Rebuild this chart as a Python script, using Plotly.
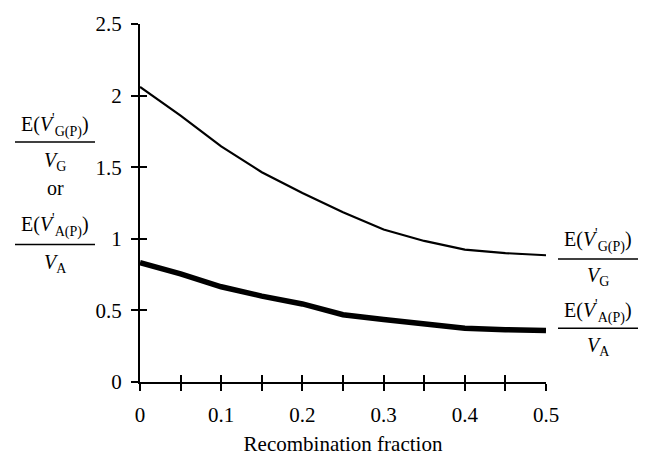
import plotly.graph_objects as go

# Data
recomb = [0.0, 0.05, 0.10, 0.15, 0.20, 0.25, 0.30, 0.35, 0.40, 0.45, 0.50]
ratio_G = [2.06, 1.86, 1.645, 1.465, 1.32, 1.185, 1.065, 0.985, 0.925, 0.90, 0.885]
ratio_A = [0.833, 0.755, 0.665, 0.600, 0.545, 0.470, 0.436, 0.405, 0.375, 0.365, 0.360]

x_major = [0.0, 0.1, 0.2, 0.3, 0.4, 0.5]
x_ticktext = ["0", "0.1", "0.2", "0.3", "0.4", "0.5"]
y_ticks = [0, 0.5, 1, 1.5, 2, 2.5]
y_ticktext = ["0", "0.5", "1", "1.5", "2", "2.5"]

FONT = "Liberation Serif, Times New Roman, serif"
FS = 21
AFS = 20

fig = go.Figure()
fig.add_trace(go.Scatter(x=recomb, y=ratio_G, mode="lines",
                         line=dict(color="black", width=2.2), showlegend=False))
fig.add_trace(go.Scatter(x=recomb, y=ratio_A, mode="lines",
                         line=dict(color="black", width=5.5), showlegend=False))
# helper empty trace for the overlay axes (inner half of crossing ticks)
fig.add_trace(go.Scatter(x=[None], y=[None], xaxis="x2", yaxis="y2",
                         showlegend=False, hoverinfo="skip"))

tick_style = dict(showgrid=False, zeroline=False, tickcolor="black",
                  tickwidth=2, ticklen=7)

fig.update_layout(
    width=650, height=464,
    margin=dict(l=140, r=104, t=16, b=81),
    paper_bgcolor="white", plot_bgcolor="white",
    font=dict(family=FONT, size=FS, color="black"),
    xaxis=dict(range=[0, 0.5], tickmode="array", tickvals=x_major,
               ticktext=x_ticktext, ticks="outside", showline=True,
               linecolor="black", linewidth=2, ticklabelstandoff=6,
               minor=dict(dtick=0.05, ticks="outside", ticklen=7,
                          tickwidth=2, tickcolor="black", showgrid=False),
               title=dict(text="Recombination fraction", standoff=10,
                          font=dict(family=FONT, size=FS)),
               **tick_style),
    yaxis=dict(range=[0, 2.5], tickmode="array", tickvals=y_ticks,
               ticktext=y_ticktext, ticks="outside", showline=True,
               linecolor="black", linewidth=2, ticklabelstandoff=5,
               **tick_style),
    xaxis2=dict(range=[0, 0.5], overlaying="x", anchor="y2", side="bottom",
                dtick=0.05, tick0=0, ticks="inside", showticklabels=False,
                showline=False, **tick_style),
    yaxis2=dict(range=[0, 2.5], overlaying="y", anchor="x2", side="left",
                dtick=0.5, tick0=0, ticks="inside", showticklabels=False,
                showline=False, **tick_style),
)

num_G = "E(<i>V</i><sup>'</sup><sub>G(P)</sub>)"
den_G = "<i>V</i><sub>G</sub>"
num_A = "E(<i>V</i><sup>'</sup><sub>A(P)</sub>)"
den_A = "<i>V</i><sub>A</sub>"

H = 464.0
W = 650.0
PW = W - 140 - 104
PH = H - 16 - 81

def px_ann(text, xc, yc):
    fig.add_annotation(text=text, xref="paper", yref="paper",
                       x=(xc - 140) / PW, y=(H - 81 - yc) / PH,
                       xanchor="center", yanchor="middle", showarrow=False,
                       font=dict(family=FONT, size=AFS, color="black"))

def px_bar(x0, x1, yc):
    fig.add_shape(type="line", xref="paper", yref="paper",
                  x0=(x0 - 140) / PW, x1=(x1 - 140) / PW,
                  y0=(H - 81 - yc) / PH, y1=(H - 81 - yc) / PH,
                  line=dict(color="black", width=1.5))

# left label
px_ann(num_G, 55, 120)
px_bar(15, 95, 137)
px_ann(den_G, 55, 157)
px_ann("or", 55, 184)
px_ann(num_A, 55, 223)
px_bar(15, 95, 242)
px_ann(den_A, 55, 262)

# right labels
px_ann(num_G, 598, 238)
px_bar(558, 638, 257)
px_ann(den_G, 598, 275)
px_ann(num_A, 598, 311)
px_bar(558, 638, 328)
px_ann(den_A, 598, 347)

fig.write_html("out.html")
